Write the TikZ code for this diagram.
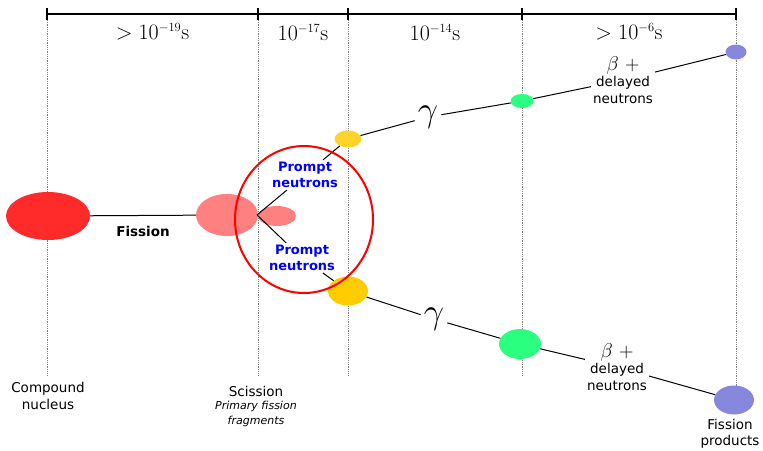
\RequirePackage{fix-cm}
\documentclass[tikz,border=0pt]{standalone}
\usepackage{amsmath, amssymb}
\usepackage[no-math]{fontspec}
\setmainfont{DejaVu Sans}
\usepackage{tikz}
\usetikzlibrary{shapes.geometric, positioning}
\DeclareMathSizes{22}{22}{12.5}{10}

\definecolor{cnred}{HTML}{FF2A2A}
\definecolor{fragred}{HTML}{FF8080}
\definecolor{goldA}{HTML}{FFD42A}
\definecolor{goldB}{HTML}{FFCC00}
\definecolor{springA}{HTML}{2AFF80}
\definecolor{lavender}{HTML}{8787DE}

\begin{document}
\begin{tikzpicture}[x=1pt, y=-1pt,
  timeline/.style={line width=2pt}, tick/.style={line width=2pt},
  guide/.style={densely dotted, gray, line width=0.8pt},
  blob/.style={ellipse, inner sep=0pt, draw=none},
  link/.style={line width=1pt},
  lbl/.style={font=\fontsize{13.5}{16.5}\selectfont, align=center},
  pn/.style={font=\fontsize{13}{16}\selectfont\bfseries, text=blue, align=center, inner sep=2pt},
  tlab/.style={font=\fontsize{22}{24}\selectfont},
  glab/.style={font=\fontsize{36}{36}\selectfont, inner sep=3pt}]
\useasboundingbox (0,0) rectangle (763,450);

% Time axis
\draw[timeline] (47,14) -- (736,14);
\foreach \x in {47,258,348,522,736} {
  \draw[tick] (\x,8) -- (\x,20);
}
\node[tlab] (t1) at (152.5,32) {$>10^{-19}\mathrm{s}$};
\node[tlab] (t2) at (303,32) {$10^{-17}\mathrm{s}$};
\node[tlab] (t3) at (435,32) {$10^{-14}\mathrm{s}$};
\node[tlab] (t4) at (629,32) {$>10^{-6}\mathrm{s}$};

% Guide lines below the ticks
\foreach \x in {47,258,348,522} {
  \draw[guide] (\x,20) -- (\x,375);
}
\draw[guide] (736,20) -- (736,386);

% Nuclei and fragments
\node[blob, fill=cnred, minimum width=84pt, minimum height=48pt] (cn) at (48,216) {};
\node[blob, fill=fragred, minimum width=62pt, minimum height=42pt] (sc) at (227,215) {};
\node[blob, fill=fragred, minimum width=38pt, minimum height=20pt] (sf) at (277,216) {};
\coordinate (sp) at (257,215);

\node[blob, fill=goldA, minimum width=27pt, minimum height=17pt] (yt) at (348,139) {};
\node[blob, fill=goldB, minimum width=40pt, minimum height=29pt] (yb) at (348,291) {};
\node[blob, fill=springA, minimum width=23pt, minimum height=14pt] (gt) at (522,101) {};
\node[blob, fill=springA, minimum width=42pt, minimum height=30pt] (gb) at (520,344) {};
\node[blob, fill=lavender, minimum width=21pt, minimum height=15pt] (pt) at (736,52) {};
\node[blob, fill=lavender, minimum width=40pt, minimum height=29pt] (pb) at (734,400) {};

% Fission
\draw[link] (cn) -- node[below=7pt, font=\fontsize{13.5}{16}\selectfont\bfseries] {Fission} (sc);

% Prompt neutrons
\node[pn] (pn1) at (305,175) {Prompt\\neutrons};
\node[pn] (pn2) at (302,258) {Prompt\\neutrons};
\draw[link] (sp) -- (pn1) -- (yt);
\draw[link] (sp) -- (pn2) -- (yb);

% Gamma emission
\node[glab] (g1) at (428,117) {$\gamma$};
\node[glab] (g2) at (434,319) {$\gamma$};
\draw[link] (yt) -- (g1) -- (gt);
\draw[link] (yb) -- (g2) -- (gb);

% Beta decay
\node[lbl, inner sep=2pt] (b1) at (623,80) {{\fontsize{20}{20}\selectfont$\beta\ +$}\\delayed\\neutrons};
\node[lbl, inner sep=2pt] (b2) at (617,367) {{\fontsize{20}{20}\selectfont$\beta\ +$}\\delayed\\neutrons};
\draw[link] (gt) -- (b1) -- (pt);
\draw[link] (gb) -- (b2) -- (pb);

% Red ring round scission
\node[ellipse, draw=red, line width=2pt, minimum width=138pt, minimum height=147pt] (ring) at (304,219.5) {};

% Captions
\node[lbl] (cap1) at (48,396) {Compound\\nucleus};
\node[lbl] (cap2) at (256,391) {Scission};
\node[font=\fontsize{11}{15}\selectfont\itshape, align=center, below=-2pt of cap2] (cap3) {Primary fission\\fragments};
\node[lbl] (cap4) at (730,434) {Fission\\products};

\end{tikzpicture}
\end{document}
